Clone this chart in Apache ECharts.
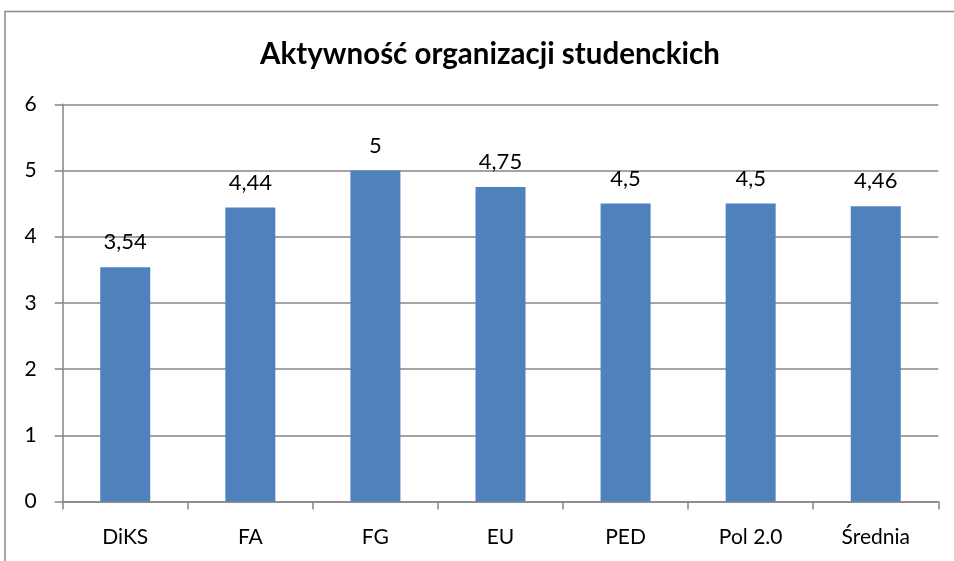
<!DOCTYPE html>
<html><head><meta charset="utf-8">
<script src="https://cdn.jsdelivr.net/npm/echarts@6/dist/echarts.min.js"></script>
<style>html,body{margin:0;padding:0;background:#fff}#c{width:954px;height:561px}</style>
</head><body><div id="c"></div>
<script>
const categories = ['DiKS', 'FA', 'FG', 'EU', 'PED', 'Pol 2.0', 'Średnia'];
const values = [3.54, 4.44, 5, 4.75, 4.5, 4.5, 4.46];
const yTicks = [0, 1, 2, 3, 4, 5, 6];
const titleText = 'Aktywność organizacji studenckich';

const FONT = 'Lato';
const chart = echarts.init(document.getElementById('c'), null, {renderer: 'canvas'});
chart.setOption({
  animation: false,
  backgroundColor: '#fff',
  title: {
    text: titleText, left: 485, top: 34, textAlign: 'center',
    textStyle: {fontFamily: FONT, fontWeight: 'bold', fontSize: 29.5, color: '#000'}
  },
  graphic: [{
    type: 'rect', shape: {x: 5, y: 11.5, width: 1000, height: 600},
    style: {fill: 'none', stroke: '#8a8a8a', lineWidth: 1.5}, silent: true
  }],
  grid: {left: 62.7, right: 15.7, top: 104.3, bottom: 59.5, containLabel: false},
  xAxis: {
    type: 'category', data: categories,
    axisLine: {lineStyle: {color: '#868686', width: 1.5}},
    axisTick: {show: true, length: 8, lineStyle: {color: '#868686', width: 1.5}, alignWithLabel: false},
    axisLabel: {fontFamily: FONT, fontSize: 21, color: '#000', margin: 25}
  },
  yAxis: {
    type: 'value', min: yTicks[0], max: yTicks[yTicks.length - 1], interval: 1,
    axisLine: {show: true, lineStyle: {color: '#868686', width: 1.5}},
    axisTick: {show: true, length: 8, lineStyle: {color: '#868686', width: 1.5}},
    splitLine: {lineStyle: {color: '#868686', width: 1.5}},
    axisLabel: {fontFamily: FONT, fontSize: 21, color: '#000', margin: 26}
  },
  series: [{
    type: 'bar', data: values, barWidth: 50,
    itemStyle: {color: '#4F81BD'},
    label: {
      show: true, position: 'top', distance: 14,
      fontFamily: FONT, fontSize: 22, color: '#000',
      formatter: p => String(p.value).replace('.', ',')
    }
  }]
});
</script></body></html>
